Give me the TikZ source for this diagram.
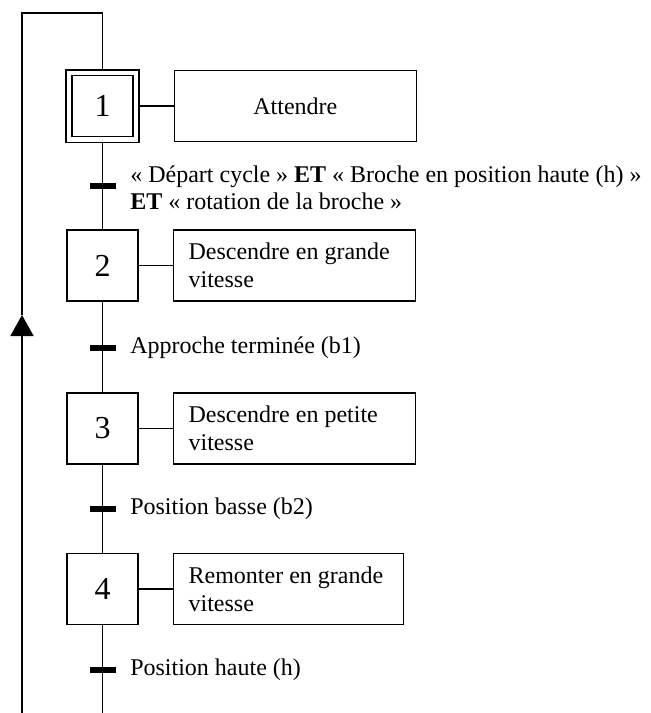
\documentclass[tikz,border=0pt]{standalone}
\usepackage{fontspec}
\setmainfont{Liberation Serif}
\usetikzlibrary{positioning,fit,arrows.meta}

\tikzset{
	lien/.style={line width=0.8pt},
	etape/.style={draw, line width=0.8pt, minimum width=35.5pt, minimum height=35.5pt, inner sep=0pt, font=\fontsize{16}{18}\selectfont},
	action/.style={draw, line width=0.8pt, minimum height=35.5pt, text width=106pt, inner xsep=7.5pt, align=flush left, font=\fontsize{12}{14}\selectfont},
	barre/.style={fill=black, minimum width=13pt, minimum height=3pt, inner sep=0pt},
	cond/.style={inner sep=0pt, align=flush left, font=\fontsize{12}{13.5}\selectfont}
}

\begin{document}
\begin{tikzpicture}[x=0.5pt, y=-0.5pt]
	\useasboundingbox (0,0) rectangle (650,713);
	% etapes
	\node[etape, minimum width=30.5pt, minimum height=30.5pt] (s1) at (102.5,106) {1};
	\node[draw, line width=0.8pt, fit=(s1), inner sep=2.5pt] (s1o) {};
	\node[etape] (s2) at (102.5,265.5) {2};
	\node[etape] (s3) at (102.5,428.5) {3};
	\node[etape] (s4) at (102.5,589) {4};
	% actions
	\node[action, align=center, right=17pt of s1o] (a1) {Attendre};
	\node[action, right=17pt of s2] (a2) {Descendre en grande\\vitesse};
	\node[action, right=17pt of s3] (a3) {Descendre en petite\\vitesse};
	\node[action, text width=100pt, right=17pt of s4] (a4) {Remonter en grande\\vitesse};
	\draw[lien] (s1o) -- (a1);
	\draw[lien] (s2) -- (a2);
	\draw[lien] (s3) -- (a3);
	\draw[lien] (s4) -- (a4);
	% transitions et receptivites
	\node[barre] (t1) at (102.5,186) {};
	\node[barre] (t2) at (102.5,348) {};
	\node[barre] (t3) at (102.5,509) {};
	\node[barre] (t4) at (102.5,670) {};
	\node[cond, right=7pt of t1, yshift=-1pt] (c1) {« Départ cycle » \textbf{ET} « Broche en position haute (h) »\\\textbf{ET} « rotation de la broche »};
	\node[cond, right=7pt of t2] (c2) {Approche terminée (b1)};
	\node[cond, right=7pt of t3] (c3) {Position basse (b2)};
	\node[cond, right=7pt of t4] (c4) {Position haute (h)};
	\draw[lien] (s1o) -- (t1) -- (s2);
	\draw[lien] (s2) -- (t2) -- (s3);
	\draw[lien] (s3) -- (t3) -- (s4);
	\coordinate (fin) at (102.5,713);
	\draw[lien] (s4) -- (t4) -- (fin);
	% retour vers l'etape 1
	\coordinate (bg) at (22,713);
	\coordinate (fl) at (22,315);
	\coordinate (hg) at (22,13);
	\coordinate (hd) at (102.5,13);
	\draw[lien, -{Triangle[width=11.5pt, length=10.5pt]}] (bg) -- (fl);
	\draw[lien] (fl) -- (hg) -- (hd) -- (s1o);
\end{tikzpicture}
\end{document}
